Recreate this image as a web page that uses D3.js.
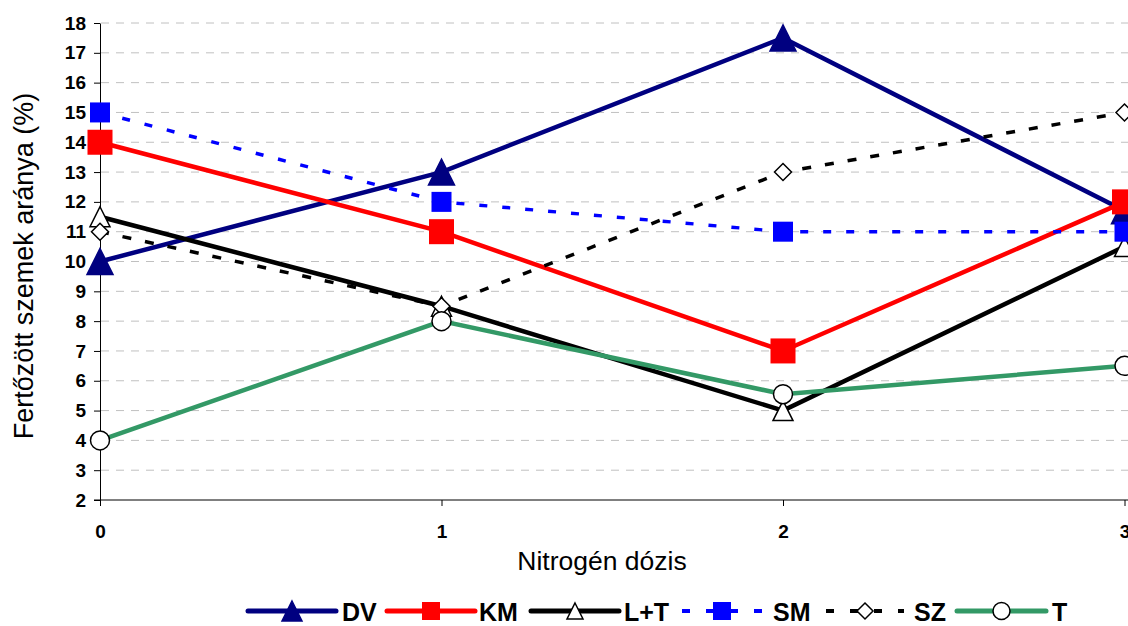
<!DOCTYPE html>
<html><head><meta charset="utf-8">
<script src="https://cdn.jsdelivr.net/npm/d3@7"></script>
<style>body{margin:0;background:#fff}svg{display:block;font-family:"Liberation Sans",Arial,sans-serif}</style>
</head><body><svg id="c" width="1128" height="626"></svg>
<script>
const categories = [0, 1, 2, 3];
const yTicks = [2,3,4,5,6,7,8,9,10,11,12,13,14,15,16,17,18];
const seriesNames = ["DV","KM","L+T","SM","SZ","T"];
const DV  = [10, 13, 17.5, 11.7];
const KM  = [14, 11, 7, 12];
const LT  = [11.5, 8.5, 5, 10.5];
const SM  = [15, 12, 11, 11];
const SZ  = [11, 8.5, 13, 15];
const T   = [4, 8, 5.55, 6.5];

const styles = {
  "DV": {color:"#000080", width:4.5, dash:null, marker:"triangle", fill:"#000080", size:13},
  "KM": {color:"#ff0000", width:4.5, dash:null, marker:"square", fill:"#ff0000", size:12.5},
  "L+T":{color:"#000000", width:4.5, dash:null, marker:"triangle", fill:"#ffffff", size:10},
  "SM": {color:"#0000ff", width:3.5, dash:"8,15", marker:"square", fill:"#0000ff", size:10},
  "SZ": {color:"#000000", width:3.5, dash:"9,14", marker:"diamond", fill:"#ffffff", size:8.5},
  "T":  {color:"#339966", width:4.5, dash:null, marker:"circle", fill:"#ffffff", size:9.5}
};
const data = {"DV":DV,"KM":KM,"L+T":LT,"SM":SM,"SZ":SZ,"T":T};

const svg = d3.select("#c");
const x = d3.scaleLinear().domain([0,3]).range([100,1124.5]);
const y = d3.scaleLinear().domain([2,18]).range([500,23]);

// gridlines
svg.append("g").selectAll("line").data(yTicks.slice(1)).join("line")
  .attr("x1",101).attr("x2",1128).attr("y1",d=>y(d)).attr("y2",d=>y(d))
  .attr("stroke","#c0c0c0").attr("stroke-width",1).attr("stroke-dasharray","8,7");

// y axis
const ya = svg.append("g").attr("transform","translate(100,0)")
  .call(d3.axisLeft(y).tickValues(yTicks).tickSize(6).tickSizeOuter(0).tickPadding(8));
ya.select(".domain").attr("stroke","#000");
ya.selectAll("line").attr("stroke","#000");
ya.selectAll("text").attr("font-size",19).attr("font-weight","bold").attr("fill","#000")
  .attr("font-family","'Liberation Sans',Arial,sans-serif");

// x axis
const xa = svg.append("g").attr("transform","translate(0,500)")
  .call(d3.axisBottom(x).tickValues(categories).tickFormat(d3.format("d")).tickSize(6).tickSizeOuter(0).tickPadding(19));
xa.select(".domain").attr("stroke","#000").attr("d","M94,0H1128");
xa.selectAll("line").attr("stroke","#000");
xa.selectAll("text").attr("font-size",19).attr("font-weight","bold").attr("fill","#000")
  .attr("font-family","'Liberation Sans',Arial,sans-serif");

// axis titles
svg.append("text").attr("x",602).attr("y",570).attr("text-anchor","middle")
  .attr("font-size",26.5).text("Nitrogén dózis");
svg.append("text").attr("transform","translate(33,266) rotate(-90)").attr("text-anchor","middle")
  .attr("font-size",27).text("Fertőzött szemek aránya (%)");

function marker(g, type, cx, cy, st, h){
  if(type==="triangle"){
    g.append("path").attr("d",`M${cx},${cy-h}L${cx+h},${cy+h}L${cx-h},${cy+h}Z`)
      .attr("fill",st.fill).attr("stroke",st.fill==="#ffffff"?"#000":st.color).attr("stroke-width",1.5);
  } else if(type==="square"){
    g.append("rect").attr("x",cx-h).attr("y",cy-h).attr("width",2*h).attr("height",2*h)
      .attr("fill",st.fill);
  } else if(type==="diamond"){
    g.append("path").attr("d",`M${cx},${cy-h}L${cx+h},${cy}L${cx},${cy+h}L${cx-h},${cy}Z`)
      .attr("fill","#fff").attr("stroke","#000").attr("stroke-width",1.5);
  } else if(type==="circle"){
    g.append("circle").attr("cx",cx).attr("cy",cy).attr("r",h)
      .attr("fill","#fff").attr("stroke","#000").attr("stroke-width",1.5);
  }
}

const line = d3.line().x((d,i)=>x(categories[i])).y(d=>y(d));
seriesNames.forEach(n=>{
  const st=styles[n];
  svg.append("path").datum(data[n]).attr("d",line).attr("fill","none")
    .attr("stroke",st.color).attr("stroke-width",st.width)
    .attr("stroke-dasharray",st.dash).attr("stroke-linejoin","miter");
});
seriesNames.forEach(n=>{
  const st=styles[n];
  const g=svg.append("g");
  data[n].forEach((v,i)=>marker(g,st.marker,x(categories[i]),y(v),st,st.size));
});

// legend
const legendPos = {"DV":[248,336,342],"KM":[387,475,479],"L+T":[531,619,624],"SM":[682,762,773],"SZ":[826,904,914],"T":[957,1046,1052]};
const legendSize = {"DV":10,"KM":9,"L+T":8,"SM":9,"SZ":8,"T":8.5};
const ly = 611;
seriesNames.forEach(n=>{
  const st=styles[n]; const p=legendPos[n];
  const g=svg.append("g");
  g.append("line").attr("x1",p[0]).attr("x2",p[1]).attr("y1",ly).attr("y2",ly)
    .attr("stroke",st.color).attr("stroke-width",st.dash?4:5)
    .attr("stroke-dasharray",st.dash?"8,16":null).attr("stroke-linecap",st.dash?"butt":"round")
    .attr("stroke-dashoffset",st.dash?"0":null);
  marker(g,st.marker,(p[0]+p[1])/2,ly,st,legendSize[n]);
  g.append("text").attr("x",p[2]).attr("y",ly+10).attr("font-size",25).attr("font-weight","bold").text(n);
});
</script></body></html>
